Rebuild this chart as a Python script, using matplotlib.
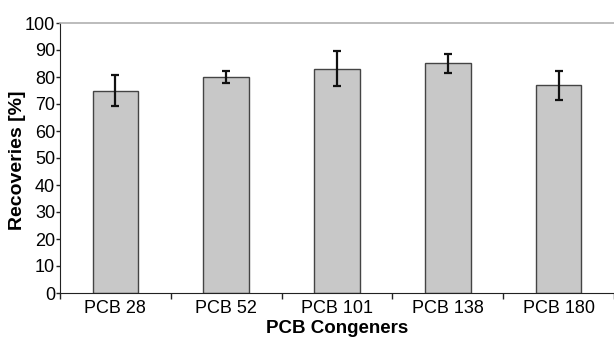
import matplotlib
matplotlib.use('Agg')
import matplotlib.pyplot as plt
import numpy as np

plt.rcParams['font.family'] = ['Liberation Sans', 'DejaVu Sans']

congeners = ['PCB 28', 'PCB 52', 'PCB 101', 'PCB 138', 'PCB 180']
recovery = [75.0, 80.0, 83.0, 85.0, 77.0]
deviation = [5.8, 2.4, 6.5, 3.5, 5.4]

fig = plt.figure(figsize=(6.14, 3.38), dpi=100)
ax = fig.add_axes([60 / 614, 45 / 338, 554 / 614, 270 / 338])

x = np.arange(len(congeners))
ax.bar(x, recovery, width=0.41, color='#c8c8c8', edgecolor='#444444', linewidth=1.0, zorder=2)
ax.errorbar(x, recovery, yerr=deviation, fmt='none', ecolor='#111111',
            elinewidth=1.6, capsize=3.2, capthick=1.6, zorder=3)

ax.set_xlim(-0.5, len(congeners) - 0.5)
ax.set_ylim(0, 100)
ax.set_yticks(range(0, 101, 10))

# category labels centred, ticks on the boundaries
ax.set_xticks(x)
ax.set_xticklabels(congeners, fontsize=13)
ax.tick_params(axis='x', which='major', length=0, pad=5)
ax.set_xticks(np.arange(-0.5, len(congeners) + 0.5, 1), minor=True)
ax.tick_params(axis='x', which='minor', length=4, width=1, color='#222222')
ax.tick_params(axis='y', length=3, width=1, color='#222222', labelsize=13, pad=0.5)

ax.spines['right'].set_visible(False)
ax.spines['top'].set_color('#b0b0b0')
ax.spines['top'].set_linewidth(1.2)
ax.spines['left'].set_color('#222222')
ax.spines['bottom'].set_color('#222222')

ax.set_ylabel('Recoveries [%]', fontsize=14, fontweight='bold')
ax.yaxis.set_label_coords(-0.062, 0.49)
ax.set_xlabel('PCB Congeners', fontsize=13.5, fontweight='bold')
ax.xaxis.set_label_coords(0.5, -0.1)

fig.savefig('out.png', dpi=100)
